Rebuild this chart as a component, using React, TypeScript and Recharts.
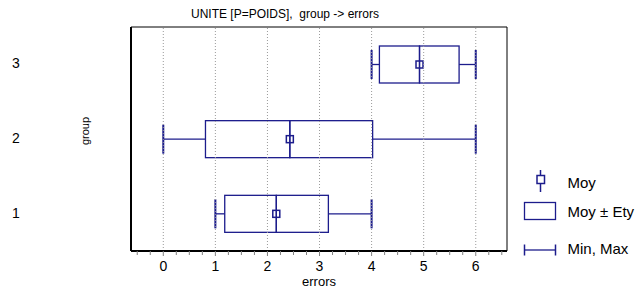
import React from 'react';
import { ComposedChart, Bar, XAxis, YAxis, ReferenceLine, ReferenceArea, Legend } from 'recharts';

// group statistics (errors)
const groups = ['1', '2', '3'];
const minValues = [1, 0, 4];
const maxValues = [4, 6, 6];
const means = [2.17, 2.43, 4.92];
const sdLow = [1.18, 0.81, 4.15]; // Moy - Ety
const sdHigh = [3.17, 4.02, 5.68]; // Moy + Ety

const majorTicks = [0, 1, 2, 3, 4, 5, 6];
const allTicks = [
  -0.5, -0.25, 0, 0.25, 0.5, 0.75, 1, 1.25, 1.5, 1.75, 2, 2.25, 2.5, 2.75, 3, 3.25, 3.5, 3.75,
  4, 4.25, 4.5, 4.75, 5, 5.25, 5.5, 5.75, 6, 6.25, 6.5,
];

const NAVY = '#1c1c8c';
const FONT = '"Liberation Sans", Arial, sans-serif';

const rows = groups.map((g, i) => ({
  group: g,
  lowWhisker: [minValues[i], sdLow[i]],
  highWhisker: [sdHigh[i], maxValues[i]],
  boxLeft: [sdLow[i], means[i]],
  boxRight: [means[i], sdHigh[i]],
}));

const edges = (p: any) => {
  const l = Math.min(p.x, p.x + p.width);
  const r = Math.max(p.x, p.x + p.width);
  return { l, r, t: p.y, b: p.y + p.height, cy: p.y + p.height / 2 };
};

const LowWhisker = (p: any) => {
  const { l, r, t, b, cy } = edges(p);
  return (
    <g>
      <line x1={l} x2={r} y1={cy} y2={cy} stroke={NAVY} strokeWidth={1.3} />
      <line x1={l} x2={l} y1={t} y2={b} stroke={NAVY} strokeWidth={2} />
    </g>
  );
};

const HighWhisker = (p: any) => {
  const { l, r, t, b, cy } = edges(p);
  return (
    <g>
      <line x1={l} x2={r} y1={cy} y2={cy} stroke={NAVY} strokeWidth={1.3} />
      <line x1={r} x2={r} y1={t} y2={b} stroke={NAVY} strokeWidth={2} />
    </g>
  );
};

const BoxLeft = (p: any) => {
  const { l, r, t, b, cy } = edges(p);
  return (
    <g>
      <rect x={l} y={t} width={r - l} height={b - t} fill="none" stroke={NAVY} strokeWidth={1.3} />
      <rect x={r - 3.5} y={cy - 3.5} width={7} height={7} fill="none" stroke={NAVY} strokeWidth={1.5} />
    </g>
  );
};

const BoxRight = (p: any) => {
  const { l, r, t, b } = edges(p);
  return <rect x={l} y={t} width={r - l} height={b - t} fill="none" stroke={NAVY} strokeWidth={1.3} />;
};

const XTick = (props: any) => {
  const { x, y, payload } = props;
  const v = payload.value;
  const major = Number.isInteger(v);
  return (
    <g>
      <line x1={x} x2={x} y1={y} y2={y + (major ? 5 : 4)} stroke="#808080" strokeWidth={1} />
      {major && (
        <text x={x} y={y + 20} textAnchor="middle" fontSize={14} fontFamily={FONT} fill="#000">
          {v}
        </text>
      )}
    </g>
  );
};

const YTick = (props: any) => {
  const { y, payload } = props;
  return (
    <text x={16} y={y + 4} textAnchor="middle" fontSize={14} fontFamily={FONT} fill="#000">
      {payload.value}
    </text>
  );
};

const LegendBox = () => (
  <svg width={119} height={95} style={{ display: 'block' }}>
    <g fontFamily={FONT} fontSize={15} fill="#000">
      <line x1={20.5} x2={20.5} y1={2} y2={24} stroke={NAVY} strokeWidth={1.5} />
      <rect x={17} y={7.5} width={7.5} height={8} fill="#fff" stroke={NAVY} strokeWidth={1.5} />
      <text x={47.5} y={20}>Moy</text>
      <rect x={4.5} y={34.5} width={31} height={17} fill="none" stroke={NAVY} strokeWidth={1.3} />
      <text x={47.5} y={49}>Moy ± Ety</text>
      <line x1={4.5} x2={35.5} y1={82} y2={82} stroke={NAVY} strokeWidth={1.3} />
      <line x1={4.5} x2={4.5} y1={76.5} y2={87.5} stroke={NAVY} strokeWidth={1.5} />
      <line x1={35.5} x2={35.5} y1={76.5} y2={87.5} stroke={NAVY} strokeWidth={1.5} />
      <text x={47.5} y={86}>Min, Max</text>
    </g>
  </svg>
);

const hiddenAxes = ['lw', 'hw', 'bl', 'br'];

export default function App() {
  return (
    <div style={{ position: 'absolute', left: 0, top: 0, width: 639, height: 288, background: '#fff' }}>
      <ComposedChart
        width={639}
        height={288}
        layout="vertical"
        data={rows}
        margin={{ top: 27, right: 132, bottom: 0, left: 0 }}
      >
        <text x={285} y={18} textAnchor="middle" fontSize={12} fontFamily={FONT} fill="#000" style={{ whiteSpace: 'pre' }}>
          {'UNITE [P=POIDS],  group -> errors'}
        </text>
        <XAxis
          type="number"
          domain={[-0.62, 6.6]}
          allowDataOverflow
          ticks={allTicks}
          interval={0}
          tick={<XTick />}
          tickLine={false}
          tickSize={0}
          tickMargin={0}
          height={37}
          axisLine={{ stroke: '#000', strokeWidth: 2 }}
          label={(props: any) => {
            const vb = props.viewBox;
            return (
              <text x={vb.x + vb.width / 2} y={286} textAnchor="middle" fontSize={13} fontFamily={FONT} fill="#000">
                errors
              </text>
            );
          }}
        />
        <YAxis
          yAxisId="g"
          type="category"
          dataKey="group"
          reversed
          width={131}
          tick={<YTick />}
          tickLine={false}
          axisLine={{ stroke: '#000', strokeWidth: 2 }}
          label={(props: any) => {
            const vb = props.viewBox;
            const cx = 85;
            const cy = vb.y + vb.height / 2 - 8;
            return (
              <text x={cx} y={cy} transform={`rotate(-90 ${cx} ${cy})`} textAnchor="middle" dominantBaseline="central" fontSize={11} fontFamily={FONT} fill="#000">
                group
              </text>
            );
          }}
        />
        {hiddenAxes.map((id) => (
          <YAxis key={id} yAxisId={id} orientation="right" type="category" dataKey="group" reversed hide width={0} />
        ))}
        <ReferenceArea yAxisId="g" x1={-0.62} x2={6.6} fill="none" fillOpacity={0} stroke="#000" strokeWidth={1} />
        {majorTicks.map((v) => (
          <ReferenceLine key={v} yAxisId="g" x={v} stroke="#9a9a9a" strokeDasharray="1 2" />
        ))}
        <Bar yAxisId="lw" dataKey="lowWhisker" barSize={29} shape={<LowWhisker />} isAnimationActive={false} />
        <Bar yAxisId="hw" dataKey="highWhisker" barSize={29} shape={<HighWhisker />} isAnimationActive={false} />
        <Bar yAxisId="bl" dataKey="boxLeft" barSize={37} shape={<BoxLeft />} isAnimationActive={false} />
        <Bar yAxisId="br" dataKey="boxRight" barSize={37} shape={<BoxRight />} isAnimationActive={false} />
        <Legend
          layout="vertical"
          align="center"
          verticalAlign="middle"
          content={<LegendBox />}
          wrapperStyle={{ left: 520, top: 168, width: 119, height: 95 }}
        />
      </ComposedChart>
    </div>
  );
}
